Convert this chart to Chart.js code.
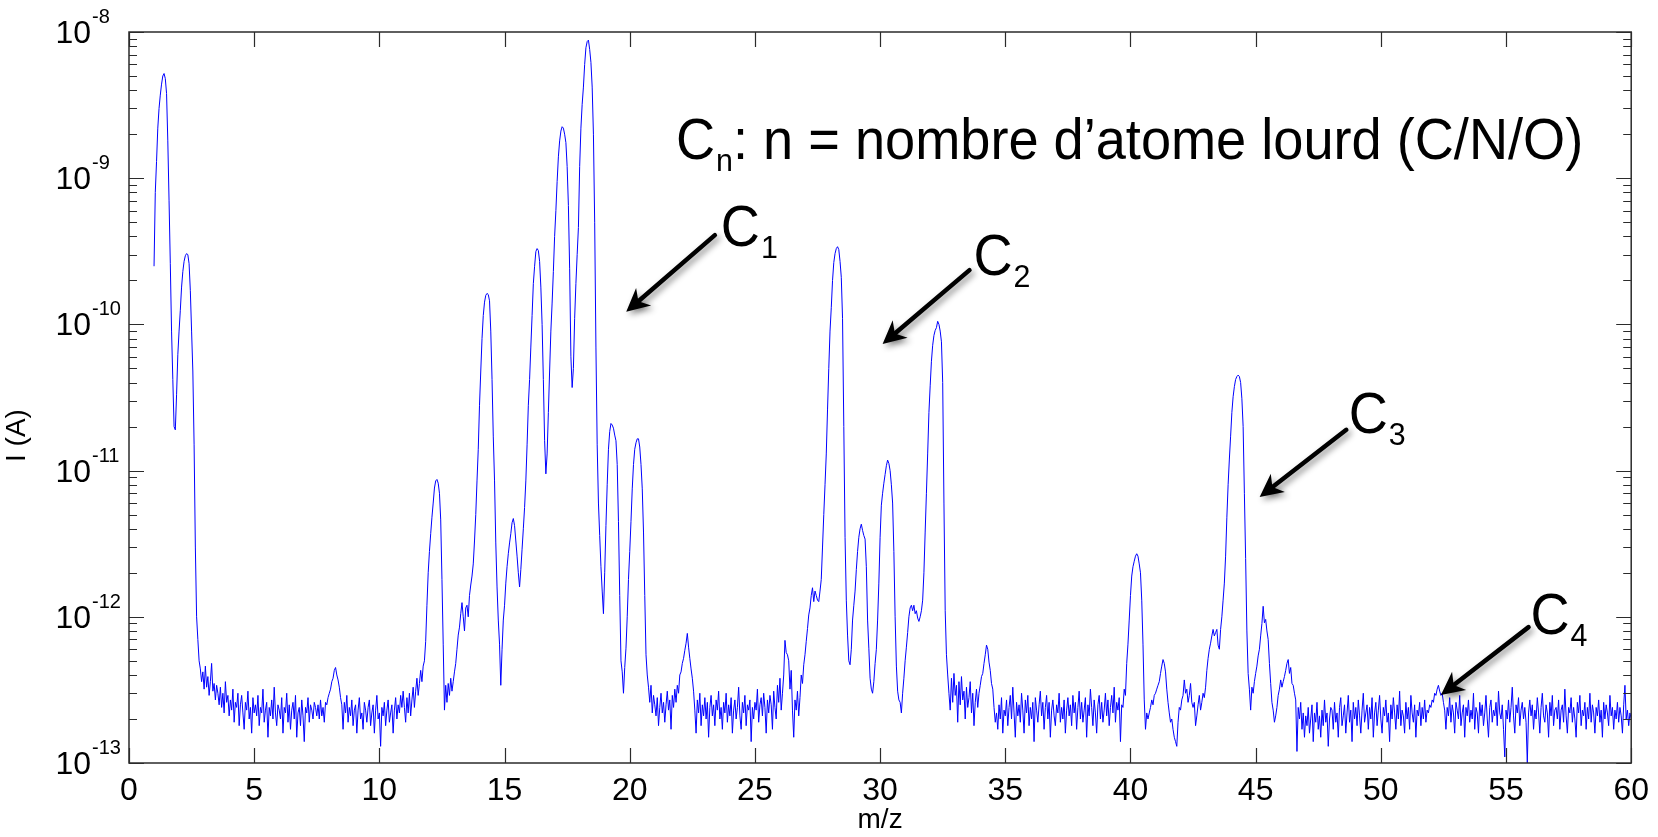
<!DOCTYPE html>
<html>
<head>
<meta charset="utf-8">
<title>Spectre de masse</title>
<script src="https://cdn.jsdelivr.net/npm/chart.js@4.4.1/dist/chart.umd.min.js"></script>
<style>
  html, body { margin: 0; padding: 0; background: #fff; }
  #wrap { width: 1658px; height: 837px; }
</style>
</head>
<body>
<div id="wrap"><canvas id="spectrum" width="1658" height="837"></canvas></div>
<script>
// m/z grid: each segment starts at segmentStart[k], step 0.05
const MZ_STEP = 0.05;
const UNIT = 1e-13; // intensities below are in units of 1e-13 A
const segmentStart = [1.00, 3.05, 11.00, 21.05, 35.05, 48.05];

// 1.00 - 3.00
const lowMassPeaks = [
  2500, 8000, 13000, 22000, 30000, 37000, 44000, 50000, 52000, 48000,
  38000, 18000, 7000, 2600, 900, 420, 200, 190, 330, 620,
  900, 1250, 1800, 2300, 2700, 2950, 3050, 3000, 2600, 1700,
  900, 480, 150, 30, 10, 7.0, 5.0, 4.4, 3.6, 4.2,
  3.2
];

// 3.05 - 10.95
const baselineLow = [
  4.6, 3.3, 3.9, 2.9, 3.6, 4.8, 3.1, 3.5, 2.7, 3.4,
  3.0, 2.5, 3.3, 2.4, 3.0, 2.2, 3.6, 2.6, 2.9, 2.1,
  2.7, 2.3, 3.2, 1.9, 2.6, 2.4, 3.0, 1.8, 2.5, 2.9,
  2.2, 1.7, 2.6, 2.3, 3.1, 2.0, 2.4, 1.6, 2.8, 2.2,
  2.5, 2.1, 2.9, 1.8, 2.4, 2.2, 3.2, 1.9, 2.3, 2.6,
  1.5, 2.4, 2.1, 2.7, 2.0, 3.3, 2.2, 1.8, 2.5, 2.3,
  2.0, 2.8, 1.6, 2.4, 2.2, 3.0, 1.9, 2.5, 1.7, 2.3,
  2.6, 2.0, 2.9, 1.5, 2.2, 2.4, 1.8, 2.7, 2.1, 1.4,
  2.4, 2.2, 2.8, 1.9, 2.5, 2.3, 2.0, 2.6, 2.4, 2.1,
  2.5, 2.0, 2.7, 2.1, 2.4, 1.9, 2.6, 2.5, 2.8, 3.0,
  3.2, 3.6, 3.8, 4.3, 4.5, 4.0, 3.7, 3.3, 2.8, 2.5,
  1.7, 2.6, 2.2, 2.9, 1.9, 2.4, 2.1, 2.7, 1.8, 2.3,
  2.5, 1.6, 2.3, 2.8, 2.0, 2.2, 1.7, 2.6, 2.3, 1.9,
  2.4, 2.7, 1.8, 2.2, 2.5, 1.6, 2.3, 2.9, 2.0, 2.2,
  1.3, 2.4, 2.1, 2.6, 1.8, 2.3, 2.7, 1.9, 2.2, 2.5,
  1.6, 2.3, 2.8, 2.0, 2.5, 2.2, 2.9, 2.4, 3.1
];

// 11.00 - 21.00
const peaksC1 = [
  2.4, 1.9, 2.8, 2.2, 3.0, 2.1, 2.7, 3.3, 2.4, 3.1,
  3.8, 2.9, 3.5, 4.3, 3.6, 4.6, 5.0, 6.8, 12, 20,
  28, 37, 48, 60, 76, 85, 87, 82, 70, 46,
  18, 6.5, 2.3, 3.4, 2.6, 3.5, 2.9, 3.8, 3.1, 3.6,
  4.2, 4.8, 6.0, 7.5, 8.5, 10.5, 12.5, 10, 8.0, 11.5,
  12, 10, 14, 16.5, 19, 23, 33, 50, 85, 140,
  280, 480, 800, 1150, 1420, 1580, 1630, 1600, 1450, 900,
  420, 170, 85, 32, 16, 9.5, 6.5, 3.4, 6.0, 9.5,
  12, 17, 22, 27, 32, 37, 44, 47, 42, 33,
  26, 20, 16, 21, 29, 40, 56, 85, 150, 280,
  420, 700, 1150, 1900, 2500, 3150, 3300, 3200, 2700, 1800,
  1000, 420, 160, 95, 130, 250, 480, 900, 1400, 2300,
  4000, 6000, 9500, 14000, 18000, 21000, 22500, 22000, 20000, 17500,
  12000, 6500, 2400, 600, 370, 500, 1100, 1900, 3000, 4600,
  12000, 22000, 32000, 42000, 60000, 78000, 86000, 88000, 76000, 62000,
  42000, 20000, 5000, 700, 150, 60, 36, 22, 15, 10.5,
  20, 42, 80, 140, 185, 210, 205, 195, 175, 160,
  110, 45, 14, 5.0, 4.2, 3.0, 4.5, 6.1, 10, 18,
  28, 45, 75, 110, 140, 155, 165, 165, 145, 110,
  75, 38, 14, 5.5, 4.0, 3.3, 2.6, 3.4, 2.2, 2.9,
  2.5
];

// 21.05 - 35.00
const peaksC2 = [
  2.1, 2.8, 1.8, 2.4, 3.0, 2.2, 2.6, 1.9, 2.5, 3.1,
  2.3, 2.7, 1.7, 2.9, 2.4, 3.2, 2.6, 3.4, 3.0, 4.0,
  4.2, 4.8, 5.2, 5.9, 6.6, 7.7, 6.2, 5.2, 4.4, 3.8,
  3.1, 2.3, 1.6, 2.7, 2.2, 3.0, 1.8, 2.5, 2.1, 2.8,
  2.0, 2.6, 1.5, 2.4, 2.9, 2.1, 2.5, 1.8, 2.7, 2.3,
  3.1, 2.0, 2.4, 1.7, 2.6, 2.2, 3.0, 1.9, 2.5, 2.1,
  2.8, 1.6, 2.3, 2.7, 2.0, 2.4, 3.3, 2.1, 1.7, 2.6,
  2.2, 2.9, 1.8, 2.5, 2.3, 2.7, 1.4, 2.4, 2.0, 2.6,
  2.3, 3.2, 1.9, 2.5, 2.8, 2.1, 3.0, 2.4, 1.6, 2.7,
  2.2, 2.9, 2.5, 1.7, 3.1, 2.4, 2.0, 3.4, 2.6, 3.8,
  2.3, 3.0, 4.0, 6.9, 5.7, 5.5, 5.0, 3.2, 4.3, 2.3,
  1.5, 2.7, 2.3, 3.1, 2.1, 2.8, 4.0, 3.5, 4.7, 5.5,
  6.8, 8.3, 10.3, 11.5, 14, 15.8, 12.7, 15, 14, 13,
  12.7, 15, 18, 30, 50, 80, 130, 260, 500, 900,
  1300, 2000, 2650, 3050, 3300, 3400, 3250, 2700, 2100, 1100,
  200, 35, 13, 7.5, 5.0, 4.7, 6.0, 9.5, 12, 15,
  21, 28, 35, 40, 43, 39, 36, 34, 22, 9.5,
  6.1, 3.8, 3.2, 3.0, 3.6, 4.8, 6.0, 9.5, 17, 35,
  58, 70, 82, 94, 108, 118, 112, 100, 80, 60,
  28, 10, 4.6, 3.1, 2.7, 2.6, 2.2, 3.0, 3.8, 5.0,
  6.2, 7.8, 10.0, 11.5, 12, 11, 12, 10.5, 11, 9.8,
  9.3, 10, 11, 13, 20, 38, 70, 130, 250, 380,
  560, 720, 840, 910, 950, 1050, 1000, 900, 760, 400,
  60, 11, 5.5, 4.0, 3.0, 2.3, 3.8, 2.6, 4.1, 2.9,
  3.4, 1.9, 3.6, 2.5, 3.9, 2.7, 3.1, 2.0, 3.3, 2.4,
  2.8, 3.6, 2.2, 3.0, 1.8, 2.6, 3.2, 2.4, 3.0, 3.4,
  3.9, 4.1, 4.8, 5.5, 6.4, 6.0, 4.9, 4.3, 3.5, 3.2,
  2.4, 1.9, 2.2, 1.7, 2.5, 2.0, 2.8, 1.6, 2.3, 2.1
];

// 35.05 - 48.00
const peaksC3 = [
  2.7, 1.8, 2.4, 2.9, 2.0, 3.3, 2.2, 1.5, 2.6, 2.1,
  2.5, 1.9, 3.0, 2.3, 1.6, 2.7, 2.2, 2.9, 1.8, 2.4,
  2.0, 2.6, 1.4, 2.8, 2.3, 1.9, 2.5, 3.1, 2.1, 2.6,
  1.7, 2.4, 2.9, 2.0, 2.6, 1.5, 2.3, 2.7, 2.1, 1.8,
  2.5, 2.2, 3.0, 1.9, 2.4, 2.0, 2.7, 1.6, 2.3, 2.8,
  2.1, 2.5, 1.8, 2.9, 2.2, 2.6, 1.7, 2.4, 3.1, 2.0,
  2.6, 1.9, 2.3, 2.8, 1.5, 2.5, 2.1, 3.2, 2.4, 1.8,
  2.7, 2.2, 1.6, 2.5, 2.9, 2.0, 2.6, 1.9, 2.3, 3.0,
  2.1, 2.7, 1.8, 2.4, 2.9, 2.2, 3.3, 1.9, 2.6, 2.3,
  2.8, 1.4, 2.5, 2.4, 3.2, 2.9, 4.8, 6.5, 9.5, 14,
  19, 22, 24, 26, 27, 26, 23, 20, 13, 6.5,
  2.7, 1.7, 2.2, 2.0, 2.2, 2.4, 2.7, 2.5, 2.9, 3.0,
  3.2, 3.4, 3.6, 4.1, 4.6, 5.1, 4.8, 4.2, 3.2, 2.6,
  2.2, 1.9, 2.0, 1.7, 1.5, 1.4, 1.3, 1.9, 2.4, 2.3,
  2.7, 2.9, 3.7, 3.0, 3.2, 2.6, 2.9, 3.5, 2.6, 2.4,
  2.6, 1.8, 2.1, 2.5, 2.9, 2.3, 2.6, 3.0, 2.8, 3.3,
  4.3, 5.2, 6.0, 6.6, 7.4, 8.2, 7.4, 7.8, 8.2, 6.4,
  6.0, 8.2, 10, 13, 17, 26, 48, 80, 120, 172,
  250, 320, 375, 420, 440, 450, 440, 400, 310, 200,
  70, 25, 8.0, 4.1, 3.2, 2.3, 3.3, 3.0, 3.6, 4.1,
  4.6, 5.4, 6.0, 7.4, 9.0, 11.8, 9.1, 9.6, 8.0, 7.0,
  4.8, 3.5, 2.6, 2.3, 1.9, 2.1, 2.4, 2.9, 3.2, 3.7,
  3.3, 3.6, 3.9, 4.3, 4.8, 5.1, 4.1, 4.5, 3.5, 3.4,
  3.0, 2.7, 1.2, 2.4, 2.0, 2.6, 1.7, 2.2, 1.5, 2.1,
  1.8, 2.4, 1.6, 2.0, 2.5, 1.4, 2.2, 1.9, 2.6, 1.7,
  2.1, 1.5, 2.3, 1.8, 2.7, 1.9, 2.2, 1.3, 2.0, 2.4
];

// 48.05 - 60.00
const tailC4 = [
  2.3, 1.7, 2.6, 1.9, 2.2, 1.5, 2.4, 2.8, 1.8, 2.1,
  2.5, 1.6, 2.2, 2.9, 1.9, 2.3, 1.4, 2.6, 2.0, 2.4,
  1.8, 2.7, 2.1, 1.6, 2.3, 3.0, 1.9, 2.2, 2.5, 1.7,
  2.4, 2.0, 2.8, 1.5, 2.2, 2.6, 1.8, 2.3, 2.9, 2.0,
  1.6, 2.4, 2.1, 2.7, 1.9, 2.2, 1.4, 2.5, 2.0, 2.8,
  2.2, 1.7, 2.5, 2.0, 3.1, 1.8, 2.3, 2.1, 1.6, 2.6,
  2.0, 2.4, 1.7, 2.9, 2.2, 1.9, 2.5, 1.5, 2.3, 2.1,
  2.6, 1.8, 2.4, 2.0, 2.7, 1.9, 2.3, 2.2, 2.5, 2.4,
  2.7, 2.6, 3.0, 2.9, 3.2, 3.4, 3.1, 2.9, 3.0, 2.6,
  2.3, 1.7, 2.4, 2.1, 2.8, 1.9, 2.5, 2.2, 1.6, 2.6,
  2.3, 2.0, 2.9, 1.8, 2.2, 2.5, 1.5, 2.4, 2.1, 2.7,
  1.9, 2.3, 2.0, 3.0, 1.7, 2.4, 2.2, 1.6, 2.6, 2.1,
  2.5, 1.8, 2.2, 2.9, 2.0, 1.5, 2.4, 2.7, 1.9, 2.3,
  2.1, 2.6, 1.8, 3.1, 2.2, 2.0, 2.5, 1.7, 1.1, 2.3,
  2.0, 2.7, 1.9, 2.4, 3.3, 2.1, 1.6, 2.5, 2.2, 2.8,
  1.8, 2.3, 2.6, 2.0, 2.4, 1.9, 1.0, 2.2, 2.7, 2.1,
  2.5, 1.7, 2.3, 2.0, 2.8, 2.2, 1.6, 2.4, 3.0, 2.1,
  1.9, 2.5, 2.2, 1.5, 2.6, 2.1, 2.9, 1.8, 2.3, 2.4,
  2.0, 2.7, 1.7, 2.3, 2.5, 1.9, 3.2, 2.1, 1.6, 2.4,
  2.2, 2.8, 1.9, 2.4, 2.0, 1.5, 2.6, 2.2, 2.9, 1.8,
  2.3, 2.1, 2.6, 1.7, 2.4, 2.0, 3.0, 1.9, 2.5, 2.2,
  1.6, 2.4, 2.1, 2.7, 1.9, 2.3, 1.5, 2.6, 2.0, 2.5,
  2.2, 1.8, 2.9, 2.1, 2.4, 1.7, 2.3, 2.0, 2.6, 1.9,
  2.4, 2.1, 1.6, 2.5, 3.4, 2.0, 2.3, 1.8, 2.2, 2.0
];

const segments = [lowMassPeaks, baselineLow, peaksC1, peaksC2, peaksC3, tailC4];

// axes
const xTickValues = [0, 5, 10, 15, 20, 25, 30, 35, 40, 45, 50, 55, 60];
const yDecades = [-13, -12, -11, -10, -9, -8];
const yMantissas = [1, 2, 3, 4, 5, 6, 7, 8, 9];

// annotations (in data coordinates: m/z, A)
const annotSub = ['1', '2', '3', '4'];
const annotTextAt = [[23.64, 3.44e-10], [33.73, 2.18e-10], [48.72, 1.8e-11], [55.98, 7.6e-13]];
const arrowFrom = [[23.40, 4.08e-10], [33.57, 2.35e-10], [48.62, 1.9e-11], [55.90, 8.5e-13]];
const arrowTo = [[19.86, 1.22e-10], [30.10, 7.35e-11], [45.16, 6.6e-12], [52.40, 2.92e-13]];
const legendAt = [21.85, 1.36e-9];

const FONT = "'Liberation Sans', Arial, Helvetica, sans-serif";

const points = [];
segments.forEach((vals, k) => {
  vals.forEach((v, i) => {
    points.push({ x: +(segmentStart[k] + i * MZ_STEP).toFixed(2), y: v * UNIT });
  });
});

const yTickValues = [];
yDecades.forEach(e => {
  (e === yDecades[yDecades.length - 1] ? [1] : yMantissas).forEach(m => {
    yTickValues.push(m * Math.pow(10, e));
  });
});

// big "C" + subscript, slightly condensed like the original slide font
function drawCLabel(ctx, x, y, sub, rest) {
  ctx.save();
  ctx.translate(x, y);
  ctx.scale(0.95, 1);
  ctx.textAlign = 'left';
  ctx.textBaseline = 'alphabetic';
  ctx.font = '57px ' + FONT;
  ctx.fillText('C', 0, 0);
  let cx = ctx.measureText('C').width + 1;
  ctx.font = '32px ' + FONT;
  ctx.fillText(sub, cx, 12);
  cx += ctx.measureText(sub).width;
  if (rest) {
    ctx.font = '57px ' + FONT;
    ctx.fillText(rest, cx, 0);
  }
  ctx.restore();
}

function drawArrow(ctx, x0, y0, x1, y1) {
  const ang = Math.atan2(y1 - y0, x1 - x0);
  const ux = Math.cos(ang), uy = Math.sin(ang);
  const head = 23, half = 11.5;
  const bx = x1 - ux * head, by = y1 - uy * head;
  ctx.save();
  ctx.shadowColor = 'rgba(0,0,0,0.45)';
  ctx.shadowBlur = 6;
  ctx.shadowOffsetX = 3;
  ctx.shadowOffsetY = 3;
  ctx.strokeStyle = '#000';
  ctx.fillStyle = '#000';
  ctx.lineWidth = 4.5;
  ctx.lineCap = 'round';
  ctx.beginPath();
  ctx.moveTo(x0, y0);
  ctx.lineTo(x1 - ux * head * 0.6, y1 - uy * head * 0.6);
  ctx.stroke();
  ctx.beginPath();
  ctx.moveTo(x1, y1);
  ctx.lineTo(bx - uy * half, by + ux * half);
  ctx.lineTo(x1 - ux * head * 0.7, y1 - uy * head * 0.7);
  ctx.lineTo(bx + uy * half, by - ux * half);
  ctx.closePath();
  ctx.fill();
  ctx.restore();
}

const frame = {
  id: 'frame',
  afterDraw(chart) {
    const ctx = chart.ctx;
    const xs = chart.scales.x, ys = chart.scales.y;
    const { left, right, top, bottom } = chart.chartArea;
    ctx.save();

    // box
    ctx.strokeStyle = '#2b2b2b';
    ctx.lineWidth = 1.5;
    ctx.strokeRect(left, top, right - left, bottom - top);

    // inward ticks
    ctx.beginPath();
    xs.ticks.forEach(t => {
      const px = Math.round(xs.getPixelForValue(t.value)) + 0.5;
      ctx.moveTo(px, bottom); ctx.lineTo(px, bottom - 15);
      ctx.moveTo(px, top); ctx.lineTo(px, top + 15);
    });
    ys.ticks.forEach(t => {
      const py = Math.round(ys.getPixelForValue(t.value)) + 0.5;
      const m = Math.round(t.value / Math.pow(10, Math.floor(Math.log10(t.value) + 1e-9)));
      const len = m === 1 ? 15 : 8;
      ctx.moveTo(left, py); ctx.lineTo(left + len, py);
      ctx.moveTo(right, py); ctx.lineTo(right - len, py);
    });
    ctx.lineWidth = 1.2;
    ctx.stroke();

    // y tick labels 10^n
    ctx.fillStyle = '#000';
    ys.ticks.forEach(t => {
      const e = Math.round(Math.log10(t.value));
      if (Math.abs(Math.log10(t.value) - e) > 1e-6) return;
      const py = ys.getPixelForValue(t.value);
      ctx.font = '32px ' + FONT;
      ctx.textAlign = 'right';
      ctx.textBaseline = 'alphabetic';
      ctx.fillText('10', left - 38, py + 11);
      ctx.font = '20px ' + FONT;
      ctx.textAlign = 'left';
      ctx.fillText(String(e), left - 37, py - 9);
    });

    // y title
    ctx.save();
    ctx.translate(17, (top + bottom) / 2 + 38);
    ctx.rotate(-Math.PI / 2);
    ctx.font = '28px ' + FONT;
    ctx.textAlign = 'center';
    ctx.textBaseline = 'middle';
    ctx.fillText('I (A)', 0, 0);
    ctx.restore();

    // arrows and labels
    arrowFrom.forEach((p, i) => {
      drawArrow(ctx,
        xs.getPixelForValue(p[0]), ys.getPixelForValue(p[1]),
        xs.getPixelForValue(arrowTo[i][0]), ys.getPixelForValue(arrowTo[i][1]));
    });
    ctx.fillStyle = '#000';
    annotTextAt.forEach((p, i) => {
      drawCLabel(ctx, xs.getPixelForValue(p[0]), ys.getPixelForValue(p[1]), annotSub[i]);
    });
    drawCLabel(ctx, xs.getPixelForValue(legendAt[0]), ys.getPixelForValue(legendAt[1]),
      'n', ': n = nombre d\u2019atome lourd (C/N/O)');

    ctx.restore();
  }
};

new Chart(document.getElementById('spectrum').getContext('2d'), {
  type: 'line',
  data: {
    datasets: [{
      label: 'I (A)',
      data: points,
      borderColor: '#0000ff',
      borderWidth: 1,
      pointRadius: 0,
      tension: 0,
      fill: false
    }]
  },
  options: {
    responsive: false,
    animation: false,
    parsing: false,
    layout: { padding: { top: 32, right: 24, bottom: 0, left: 0 } },
    plugins: {
      legend: { display: false },
      tooltip: { enabled: false }
    },
    scales: {
      x: {
        type: 'linear',
        min: 0,
        max: 60,
        afterBuildTicks: s => { s.ticks = xTickValues.map(v => ({ value: v })); },
        ticks: { font: { size: 32, family: FONT }, color: '#000', padding: 9, maxRotation: 0, autoSkip: false },
        grid: { display: false, drawTicks: false },
        border: { display: false },
        title: { display: true, text: 'm/z', color: '#000', font: { size: 28, family: FONT }, padding: { top: 0, bottom: 0 } },
        afterFit: s => { s.height = 74; }
      },
      y: {
        type: 'logarithmic',
        min: 1e-13,
        max: 1e-8,
        afterBuildTicks: s => { s.ticks = yTickValues.map(v => ({ value: v })); },
        ticks: { display: false },
        grid: { display: false, drawTicks: false },
        border: { display: false },
        afterFit: s => { s.width = 129; }
      }
    }
  },
  plugins: [frame]
});
</script>
</body>
</html>
